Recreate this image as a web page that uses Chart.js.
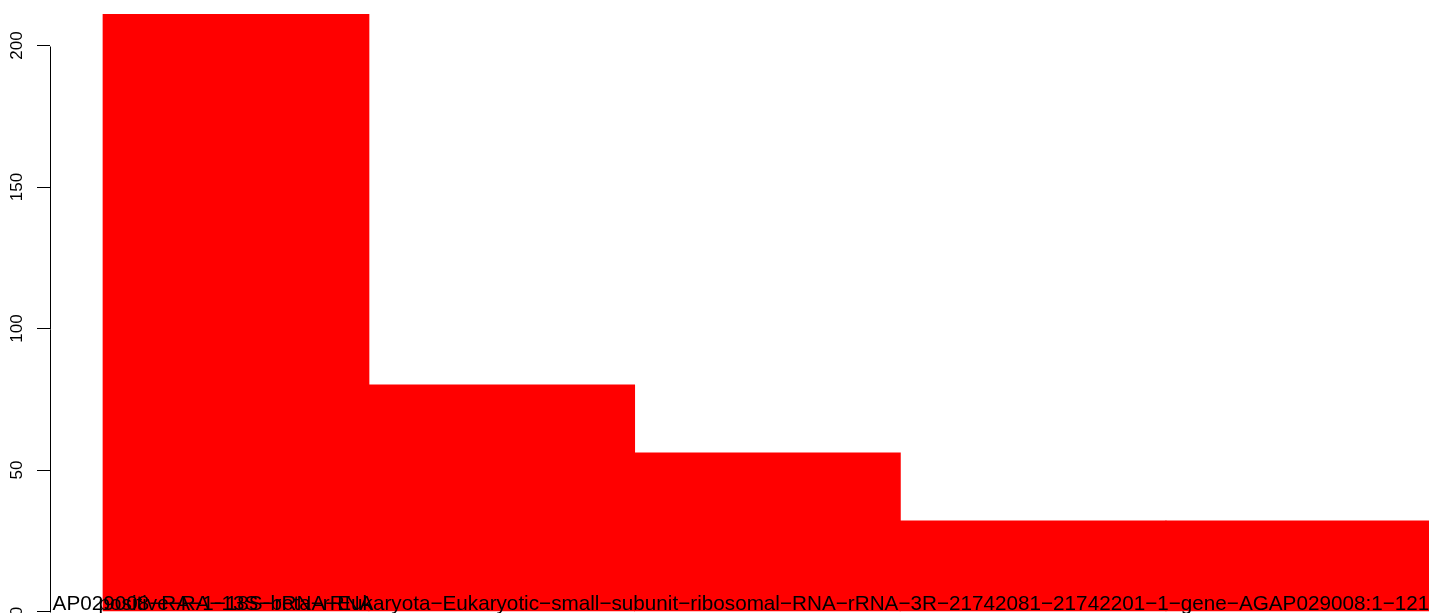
<!DOCTYPE html>
<html>
<head>
<meta charset="utf-8">
<script src="https://cdn.jsdelivr.net/npm/chart.js@4.4.1/dist/chart.umd.min.js"></script>
<style>
  html, body { margin: 0; padding: 0; background: #fff; }
  canvas { display: block; }
</style>
</head>
<body>
<canvas id="barChart" width="1429" height="613"></canvas>
<script>
// bar names as they show under the bars (the others were dropped by R, they overlap)
const names = [
  'positive−RA−13S−beta−rRNA',
  '',
  'AP029008−RA−1−18S−rRNA−Eukaryota−Eukaryotic−small−subunit−ribosomal−RNA−rRNA−3R−21742081−21742201−1−gene−AGAP029008:1−121−RA−',
  '',
  ''
];
const counts = [211, 80, 56, 32, 32];
const yTicks = [0, 50, 100, 150, 200];

const barColor = '#ff0000';
const fontFamily = '"Liberation Sans", Arial, Helvetica, sans-serif';

// R style axis: line only between first and last tick, rotated tick labels, names under bars
const rAxes = {
  id: 'rAxes',
  afterDraw(chart) {
    const ctx = chart.ctx;
    const xs = chart.scales.x;
    const ys = chart.scales.y;
    const left = chart.chartArea.left + 0.5;

    ctx.save();
    ctx.strokeStyle = '#000';
    ctx.lineWidth = 1;
    ctx.beginPath();
    ctx.moveTo(left, Math.round(ys.getPixelForValue(yTicks[0])) + 0.5);
    ctx.lineTo(left, Math.round(ys.getPixelForValue(yTicks[yTicks.length - 1])) + 0.5);
    ctx.stroke();

    ctx.fillStyle = '#000';
    ctx.font = '17px ' + fontFamily;
    ctx.textAlign = 'center';
    ctx.textBaseline = 'alphabetic';
    yTicks.forEach(v => {
      ctx.save();
      ctx.translate(21.5, ys.getPixelForValue(v));
      ctx.rotate(-Math.PI / 2);
      ctx.fillText(String(v), 0, 0);
      ctx.restore();
    });

    ctx.font = '20.7px ' + fontFamily;
    names.forEach((n, i) => {
      if (!n) return;
      ctx.fillText(n, xs.getPixelForValue(i + 0.5), chart.chartArea.bottom - 1.5);
    });
    ctx.restore();
  }
};

new Chart(document.getElementById('barChart'), {
  type: 'bar',
  data: {
    datasets: [{
      data: counts.map((v, i) => ({ x: i + 0.5, y: v })),
      backgroundColor: barColor,
      borderWidth: 0,
      inflateAmount: 0.5, // no seams between touching bars
      barPercentage: 1,
      categoryPercentage: 1
    }]
  },
  options: {
    responsive: false,
    animation: false,
    layout: { padding: { top: 0, right: 0, bottom: 1.5, left: 0 } },
    plugins: {
      legend: { display: false },
      tooltip: { enabled: false }
    },
    scales: {
      x: {
        type: 'linear',
        display: false,
        offset: false,
        min: -0.2,
        max: 4.99,
        // one tick per bar so the bar width is the full gap between bars
        afterBuildTicks: scale => { scale.ticks = counts.map((_, i) => ({ value: i + 0.5 })); }
      },
      y: {
        min: 0,
        max: 216.1,
        afterBuildTicks: scale => { scale.ticks = yTicks.map(v => ({ value: v })); },
        afterFit: scale => { scale.width = 50; },
        border: { display: false },
        grid: {
          drawOnChartArea: false,
          drawTicks: true,
          tickLength: 13,
          color: '#000',
          lineWidth: 1
        },
        ticks: { display: false }
      }
    }
  },
  plugins: [rAxes]
});
</script>
</body>
</html>
